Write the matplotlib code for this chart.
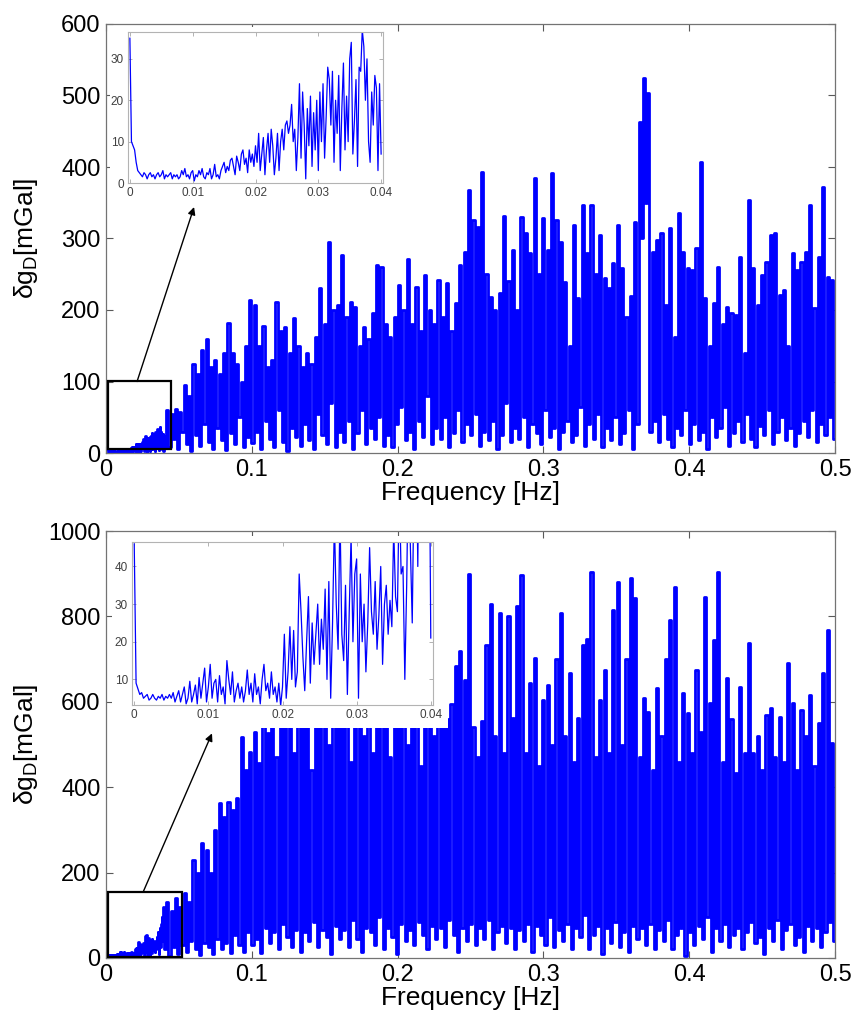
import numpy as np
import matplotlib
matplotlib.use("Agg")
import matplotlib.pyplot as plt
from matplotlib.patches import Rectangle

plt.rcParams['font.family'] = ['Liberation Sans', 'DejaVu Sans']
plt.rcParams['mathtext.default'] = 'regular'

BLUE = (0, 0, 1)

# 0 - 0.04 Hz, one value every 0.25 mHz (the zoomed part)
low_step = 0.00025
a_low = [35, 10, 9, 8, 5, 3, 2.5, 2, 1.5, 2.5, 2, 1, 2, 2.5, 1.5, 2, 1, 2, 2.5, 1.5,
         2, 3, 1, 2, 1.5, 2, 2.5, 1, 2, 1.5, 2, 1, 1.5, 3, 2, 3.5, 1.5, 2, 1, 2.5,
         3, 0.5, 2, 1.5, 3, 2, 3.5, 1.5, 1, 2.5, 2, 3.5, 1, 2, 4.5, 1.5, 2, 1, 3, 4,
         5, 2.5, 4, 3, 5.5, 6, 4, 2, 6.5, 5, 3, 7, 8, 4.5, 6, 2.5, 8, 5, 7, 4,
         9, 5, 12, 3, 7, 11, 2, 8, 12, 5, 13, 9, 2, 6, 12, 3, 10, 13, 8, 14,
         15, 12, 14, 19, 10, 13, 3, 11, 24, 6, 22, 14, 1, 18, 9, 21, 4, 17, 8, 20,
         3, 22, 10, 24, 6, 16, 28, 25, 14, 27, 5, 20, 12, 26, 3, 18, 29, 8, 21, 10,
         30, 34, 7, 15, 25, 4, 28, 27, 37, 33, 20, 30, 10, 5, 22, 14, 26, 23, 3, 24,
         7]
b_low = [46, 9, 7.5, 6, 6.5, 5, 5.5, 6, 4.5, 5, 6, 5, 4.5, 5.5, 5, 6, 4.5, 5.5, 5, 6,
         5, 6.5, 4, 5.5, 7, 4, 6, 8, 3.5, 5, 9.5, 4, 6, 8.5, 3.5, 10.5, 5, 9, 13, 4,
         8, 14, 5, 9, 10, 4, 11, 6, 8, 3.5, 15, 10, 6, 12, 4, 7, 9, 5, 8, 4,
         7, 12.5, 6, 9, 4, 11.5, 6, 8, 3.5, 10, 14, 7, 9, 5, 12, 6, 8, 4, 9, 3,
         8, 22, 5, 12, 24, 10, 23, 8, 12, 38, 28, 16, 7, 20, 32, 9, 25, 14, 22, 30,
         14, 26, 18, 34, 10, 36, 5, 25, 52, 30, 18, 55, 22, 15, 35, 6, 28, 48, 20, 38,
         42, 5, 38, 20, 30, 12, 25, 45, 28, 22, 36, 18, 27, 40, 14, 30, 35, 22, 31, 24,
         50, 32, 28, 62, 38, 40, 10, 35, 70, 45, 25, 65, 80, 40, 95, 60, 110, 75, 120, 90,
         21]

# 0.042 - 0.5 Hz: maxima at 0.042 + 0.003*k, minima half way between them
a_hi = [60, 55, 62, 58, 95, 80, 124, 110, 144, 160,
        120, 130, 110, 140, 182, 140, 125, 100, 150, 214,
        207, 150, 177, 120, 130, 211, 170, 176, 140, 189,
        150, 120, 140, 125, 162, 231, 180, 295, 200, 207,
        277, 190, 211, 204, 150, 176, 160, 196, 263, 260,
        180, 162, 190, 235, 200, 272, 180, 232, 170, 249,
        200, 180, 242, 190, 238, 170, 210, 263, 281, 368,
        326, 316, 393, 250, 218, 200, 224, 331, 240, 284,
        200, 330, 307, 280, 384, 250, 328, 284, 391, 326,
        295, 239, 150, 319, 217, 347, 280, 347, 250, 305,
        245, 231, 266, 319, 259, 190, 220, 323, 463, 524,
        503, 281, 298, 307, 207, 315, 162, 336, 281, 259,
        256, 287, 407, 217, 150, 210, 260, 180, 204, 196,
        193, 274, 140, 354, 259, 207, 249, 267, 305, 307,
        221, 228, 150, 280, 256, 267, 281, 347, 203, 274,
        372, 246, 242]
a_lo = [8, 20, 5, 30, 12, 3, 25, 10, 40, 15,
        6, 35, 18, 4, 28, 12, 50, 8, 22, 14,
        30, 5, 45, 20, 9, 60, 15, 3, 35, 22,
        10, 40, 18, 6, 55, 25, 12, 70, 8, 30,
        15, 45, 5, 28, 60, 12, 35, 20, 50, 10,
        25, 8, 40, 65, 18, 30, 5, 45, 22, 80,
        12, 35, 20, 50, 8, 28, 60, 15, 40, 25,
        55, 10, 30, 18, 45, 5, 25, 70, 15, 35,
        20, 50, 8, 40, 28, 12, 60, 22, 35, 5,
        30, 45, 15, 25, 65, 10, 40, 20, 55, 8,
        35, 18, 50, 12, 28, 60, 5, 40, 300, 350,
        30, 45, 15, 55, 20, 8, 35, 25, 60, 12,
        40, 18, 30, 5, 50, 22, 35, 65, 10, 28,
        45, 15, 55, 20, 8, 38, 25, 60, 12, 30,
        50, 18, 35, 10, 28, 45, 22, 60, 15, 40,
        25, 50, 20]
b_hi = [131, 110, 140, 120, 152, 130, 229, 200, 269, 253,
        199, 300, 362, 330, 365, 347, 374, 517, 440, 482,
        529, 456, 600, 526, 650, 470, 700, 560, 620, 480,
        640, 540, 700, 440, 720, 560, 650, 500, 620, 700,
        540, 720, 460, 700, 660, 520, 720, 480, 560, 700,
        620, 470, 660, 580, 720, 500, 700, 620, 450, 640,
        700, 520, 660, 620, 560, 596, 685, 720, 650, 900,
        540, 470, 556, 732, 830, 520, 809, 480, 802, 563,
        825, 896, 480, 643, 702, 450, 604, 639, 500, 700,
        809, 520, 667, 460, 561, 732, 748, 903, 470, 604,
        674, 480, 814, 880, 500, 700, 889, 842, 470, 608,
        575, 440, 632, 520, 700, 791, 868, 460, 620, 573,
        480, 674, 530, 845, 597, 744, 903, 460, 655, 560,
        433, 634, 480, 737, 480, 520, 440, 568, 585, 470,
        564, 460, 690, 597, 440, 580, 520, 615, 450, 550,
        667, 767, 503]
b_lo = [5, 25, 10, 30, 15, 40, 20, 8, 35, 25,
        10, 45, 20, 35, 12, 55, 30, 15, 60, 30,
        45, 12, 70, 35, 60, 20, 80, 50, 25, 65,
        15, 60, 40, 85, 25, 65, 50, 10, 75, 45,
        65, 25, 90, 45, 15, 70, 60, 30, 95, 20,
        70, 50, 10, 80, 40, 65, 30, 85, 55, 20,
        75, 45, 70, 25, 90, 55, 15, 70, 40, 80,
        30, 70, 45, 90, 20, 60, 75, 35, 70, 20,
        65, 40, 80, 15, 75, 55, 30, 95, 25, 65,
        40, 80, 20, 70, 50, 100, 20, 55, 75, 10,
        70, 35, 85, 25, 60, 15, 75, 45, 70, 30,
        80, 20, 65, 40, 90, 20, 55, 70, 5, 60,
        30, 75, 45, 95, 15, 70, 40, 80, 25, 55,
        70, 20, 60, 85, 35, 50, 10, 70, 40, 90,
        20, 65, 80, 30, 50, 15, 75, 40, 70, 25,
        60, 85, 40]

freq_ticks = [0, 0.1, 0.2, 0.3, 0.4, 0.5]
freq_labels = ['0', '0.1', '0.2', '0.3', '0.4', '0.5']
zoom_ticks = [0, 0.01, 0.02, 0.03, 0.04]
zoom_labels = ['0', '0.01', '0.02', '0.03', '0.04']


def spectrum(low, hi, lo):
    f_low = np.arange(len(low)) * low_step
    f_hi = 0.042 + 0.003 * np.arange(len(hi))
    f = np.empty(2 * len(hi))
    v = np.empty(2 * len(hi))
    f[0::2], f[1::2] = f_hi, f_hi + 0.0015
    v[0::2], v[1::2] = hi, lo
    return np.concatenate([f_low, f]), np.concatenate([low, v])


def px(x0, y0, x1, y1):
    # pixel box (left, top, right, bottom) -> figure fraction rect
    W, H = 855.0, 1023.0
    return [x0 / W, 1 - y1 / H, (x1 - x0) / W, (y1 - y0) / H]


def main_panel(rect, low, hi, lo, ymax, ystep, box, arrow):
    ax = fig.add_axes(rect)
    f, v = spectrum(low, hi, lo)
    ax.plot(f, v, color=BLUE, lw=2.0, drawstyle='steps-mid')
    ax.set_xlim(0, 0.5)
    ax.set_ylim(0, ymax)
    ax.set_xticks(freq_ticks)
    ax.set_xticklabels(freq_labels)
    ax.set_yticks(np.arange(0, ymax + 1, ystep))
    ax.tick_params(direction='in', length=5, width=0.8, color='0.35',
                   top=True, right=True, labelsize=17, pad=4)
    for s in ax.spines.values():
        s.set_color('0.45')
        s.set_linewidth(0.9)
    ax.set_xlabel('Frequency [Hz]', fontsize=19, labelpad=0)
    ax.set_ylabel('δg$_D$[mGal]', fontsize=19)
    ax.yaxis.set_label_coords(-0.09, 0.5)
    (bx, by), bw, bh = box
    ax.add_patch(Rectangle((bx, by), bw, bh, fill=False, ec='k', lw=1.6, zorder=5))
    ax.annotate('', xy=arrow[1], xytext=arrow[0],
                arrowprops=dict(arrowstyle='-|>', color='k', lw=1.0,
                                mutation_scale=11, shrinkA=0, shrinkB=0))
    return ax


def zoom_panel(bg_rect, rect, low, ylim, yticks):
    bg = fig.add_axes(bg_rect, zorder=3)
    bg.set_facecolor('white')
    bg.set_axis_off()
    bg.add_patch(Rectangle((0, 0), 1, 1, transform=bg.transAxes, fc='white', ec='none'))
    ax = fig.add_axes(rect, zorder=4)
    ax.plot(np.arange(len(low)) * low_step, low, color=BLUE, lw=0.9)
    ax.set_xlim(-0.0003, 0.0403)
    ax.set_ylim(*ylim)
    ax.set_xticks(zoom_ticks)
    ax.set_xticklabels(zoom_labels)
    ax.set_yticks(yticks)
    ax.tick_params(direction='in', length=3, width=0.6, color='0.65',
                   top=True, right=True, labelsize=8.5, labelcolor='0.25', pad=3)
    for s in ax.spines.values():
        s.set_color('0.7')
        s.set_linewidth(0.8)
    return ax


fig = plt.figure(figsize=(8.55, 10.23), dpi=100)

main_panel(px(106, 24, 835, 453), a_low, a_hi, a_lo, 600, 100,
           ((0.0012, 5), 0.0434, 95), ((0.0213, 100), (0.0604, 344)))
zoom_panel(px(110, 27, 396, 203), px(128, 32, 383, 183), a_low, (0, 36.5), [0, 10, 20, 30])

main_panel(px(106, 531, 835, 958), b_low, b_hi, b_lo, 1000, 200,
           ((0.0016, 3), 0.0507, 151), ((0.0254, 154), (0.0727, 526)))
zoom_panel(px(112, 536, 448, 728), px(132, 542, 433, 705), b_low, (3.2, 46.5), [10, 20, 30, 40])

fig.savefig('out.png', dpi=100, facecolor='white')
